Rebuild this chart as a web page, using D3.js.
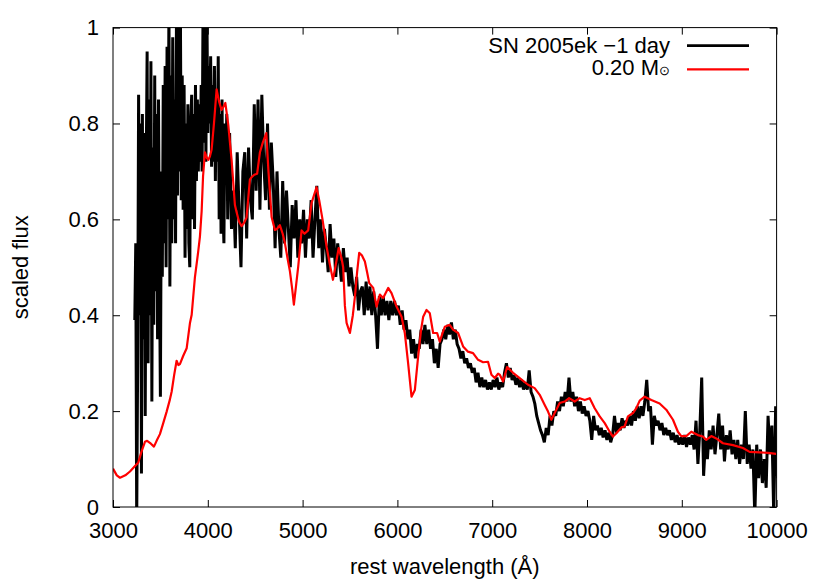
<!DOCTYPE html>
<html>
<head>
<meta charset="utf-8">
<script src="https://cdn.jsdelivr.net/npm/d3@7"></script>
<style>
  html, body { margin: 0; padding: 0; background: #fff; }
  svg { display: block; font-family: "Liberation Sans", Arial, Helvetica, sans-serif; }
</style>
</head>
<body>
<svg id="chart" width="830" height="581"></svg>
<script>
// ---------------- data ----------------
const xTicks = [3000, 4000, 5000, 6000, 7000, 8000, 9000, 10000];
const yTicks = [0, 0.2, 0.4, 0.6, 0.8, 1];
const xLabel = "rest wavelength (Å)";
const yLabel = "scaled flux";
const seriesNames = ["SN 2005ek \u22121 day", "0.20 M"];

// Observed spectrum, SN 2005ek: blue part sampled every 10 Å from 3230 Å
const snBlueStart = 3230, snBlueStep = 10;
const snBlueFlux = [
  0.39, 0.55, -0.03, 0.30, 0.86, 0.40, 0.80, 0.07, 0.82, 0.35,
  0.78, 0.19, 0.70, 0.95, 0.30, 0.85, 0.40, 0.93, 0.22, 0.75,
  0.38, 0.90, 0.45, 0.82, 0.35, 0.85, 0.50, 0.23, 0.70, 0.48,
  0.88, 0.55, 0.92, 0.50, 0.96, 0.60, 1.05, 0.46, 0.90, 0.55,
  0.98, 0.60, 0.85, 0.55, 1.05, 0.65, 1.02, 0.70, 1.08, 0.64,
  0.90, 0.62, 0.88, 0.52, 0.80, 0.58, 0.84, 0.55, 0.50, 0.80,
  0.86, 0.60, 0.82, 0.58, 0.88, 0.68, 0.85, 0.70, 0.84, 0.72,
  0.88, 0.70, 1.05, 0.76, 1.02, 0.72, 1.06, 0.78, 0.92, 0.80,
  0.94, 0.71, 0.88, 0.72, 0.92, 0.68, 0.86, 0.72, 0.94, 0.60,
  0.82, 0.57, 0.85, 0.62, 0.55, 0.80, 0.70, 0.82, 0.60, 0.76
];
// red part sampled every 20 Å from 4230 Å
const snRedStart = 4230, snRedStep = 20;
const snRedFlux = [
  0.78, 0.58, 0.66, 0.54, 0.74, 0.62, 0.50, 0.70, 0.74, 0.56,
  0.75, 0.64, 0.60, 0.84, 0.66, 0.85, 0.62, 0.86, 0.72, 0.64,
  0.80, 0.62, 0.76, 0.68, 0.54, 0.70, 0.58, 0.52, 0.68, 0.55,
  0.66, 0.58, 0.50, 0.63, 0.56, 0.64, 0.52, 0.60, 0.55, 0.62,
  0.52, 0.60, 0.56, 0.64, 0.52, 0.60, 0.67, 0.54, 0.60, 0.51,
  0.58, 0.54, 0.49, 0.59, 0.52, 0.56, 0.48, 0.55, 0.51, 0.47,
  0.54, 0.49, 0.52, 0.46, 0.50, 0.46, 0.44, 0.48, 0.41, 0.45,
  0.46, 0.40, 0.47, 0.41, 0.46, 0.40, 0.45, 0.40, 0.33, 0.44,
  0.40, 0.44, 0.40, 0.43, 0.39, 0.43, 0.40, 0.43, 0.40, 0.42,
  0.38, 0.41, 0.37, 0.39, 0.35, 0.37, 0.32, 0.35, 0.31, 0.34,
  0.33, 0.37, 0.34, 0.38, 0.34, 0.37, 0.33, 0.35, 0.30, 0.33,
  0.29, 0.34, 0.35, 0.37, 0.35, 0.38, 0.36, 0.385, 0.35, 0.37,
  0.34, 0.33, 0.31, 0.325, 0.30, 0.31, 0.29, 0.30, 0.28, 0.29,
  0.26, 0.28, 0.25, 0.27, 0.25, 0.265, 0.245, 0.26, 0.245, 0.265,
  0.25, 0.27, 0.245, 0.26, 0.25, 0.28, 0.30, 0.27, 0.29, 0.265,
  0.275, 0.255, 0.27, 0.25, 0.265, 0.245, 0.26, 0.245, 0.285, 0.24,
  0.23, 0.215, 0.19, 0.175, 0.16, 0.15, 0.135, 0.165, 0.15, 0.19,
  0.17, 0.20, 0.19, 0.22, 0.20, 0.23, 0.21, 0.24, 0.22, 0.27,
  0.22, 0.24, 0.21, 0.23, 0.20, 0.22, 0.195, 0.21, 0.19, 0.20,
  0.18, 0.14, 0.19, 0.16, 0.17, 0.15, 0.165, 0.145, 0.16, 0.14,
  0.155, 0.135, 0.15, 0.19, 0.155, 0.175, 0.16, 0.185, 0.165, 0.18,
  0.17, 0.19, 0.17, 0.20, 0.18, 0.21, 0.185, 0.21, 0.19, 0.22,
  0.265, 0.20, 0.21, 0.13, 0.19, 0.17, 0.18, 0.16, 0.175, 0.15,
  0.165, 0.15, 0.16, 0.14, 0.155, 0.135, 0.15, 0.13, 0.145, 0.13,
  0.15, 0.125, 0.145, 0.13, 0.15, 0.12, 0.18, 0.09, 0.16, 0.27,
  0.065, 0.14, 0.10, 0.16, 0.12, 0.17, 0.11, 0.15, 0.195, 0.12,
  0.17, 0.095, 0.15, 0.12, 0.16, 0.11, 0.14, 0.10, 0.14, 0.09,
  0.13, 0.10, 0.20, 0.09, 0.13, 0.08, 0.12, -0.02, 0.13, 0.06,
  0.12, 0.05, 0.10, 0.04, 0.19, 0.11, 0.17, -0.02, 0.21, 0.06
];

// Model spectrum, 0.20 Msun
const modelWave = [
  3000, 3040, 3074, 3130, 3179, 3230, 3267, 3300, 3337, 3360,
  3400, 3432, 3460, 3495, 3530, 3566, 3600, 3619, 3645, 3671,
  3690, 3706, 3740, 3777, 3812, 3830, 3864, 3899, 3917, 3935,
  3950, 3970, 3990, 4005, 4022, 4040, 4065, 4093, 4120, 4145,
  4165, 4185, 4216, 4251, 4286, 4304, 4330, 4357, 4380, 4409,
  4444, 4462, 4490, 4520, 4550, 4580, 4617, 4640, 4673, 4708,
  4730, 4760, 4790, 4813, 4840, 4866, 4890, 4908, 4930, 4954,
  4989, 5020, 5059, 5094, 5120, 5147, 5175, 5210, 5253, 5288,
  5320, 5345, 5380, 5410, 5428, 5446, 5464, 5499, 5530, 5552,
  5575, 5597, 5625, 5657, 5680, 5703, 5745, 5780, 5815, 5850,
  5903, 5938, 5991, 6044, 6078, 6113, 6149, 6184, 6219, 6250,
  6272, 6307, 6342, 6377, 6419, 6447, 6475, 6500, 6552, 6587,
  6640, 6693, 6745, 6798, 6851, 6904, 6956, 6992, 7027, 7062,
  7080, 7115, 7157, 7220, 7290, 7378, 7448, 7501, 7554, 7589,
  7624, 7659, 7712, 7765, 7811, 7870, 7923, 7976, 8029, 8081,
  8134, 8187, 8239, 8274, 8310, 8363, 8397, 8432, 8485, 8520,
  8556, 8608, 8679, 8766, 8836, 8907, 8959, 8994, 9047, 9100,
  9170, 9223, 9258, 9311, 9364, 9434, 9540, 9645, 9715, 9821,
  9909, 9997
];
const modelFlux = [
  0.080, 0.066, 0.061, 0.066, 0.074, 0.085, 0.093, 0.115, 0.136, 0.138,
  0.132, 0.126, 0.138, 0.152, 0.175, 0.199, 0.224, 0.241, 0.275, 0.305,
  0.296, 0.298, 0.315, 0.331, 0.384, 0.401, 0.479, 0.533, 0.564, 0.617,
  0.690, 0.740, 0.728, 0.724, 0.731, 0.745, 0.800, 0.871, 0.845, 0.828,
  0.835, 0.843, 0.797, 0.724, 0.630, 0.615, 0.595, 0.586, 0.592, 0.604,
  0.683, 0.688, 0.693, 0.695, 0.740, 0.760, 0.780, 0.700, 0.605, 0.578,
  0.580, 0.588, 0.570, 0.551, 0.520, 0.492, 0.455, 0.422, 0.460, 0.502,
  0.577, 0.570, 0.577, 0.634, 0.650, 0.667, 0.640, 0.600, 0.543, 0.505,
  0.474, 0.500, 0.540, 0.520, 0.500, 0.420, 0.384, 0.363, 0.400, 0.439,
  0.490, 0.530, 0.525, 0.512, 0.490, 0.467, 0.457, 0.418, 0.443, 0.436,
  0.457, 0.446, 0.418, 0.397, 0.363, 0.300, 0.230, 0.244, 0.314, 0.370,
  0.397, 0.411, 0.404, 0.363, 0.363, 0.345, 0.362, 0.376, 0.380, 0.370,
  0.363, 0.335, 0.324, 0.321, 0.307, 0.302, 0.303, 0.276, 0.269, 0.278,
  0.276, 0.262, 0.292, 0.280, 0.269, 0.255, 0.248, 0.234, 0.213, 0.199,
  0.182, 0.196, 0.217, 0.220, 0.227, 0.220, 0.227, 0.223, 0.227, 0.206,
  0.189, 0.175, 0.157, 0.147, 0.154, 0.166, 0.168, 0.189, 0.196, 0.206,
  0.222, 0.230, 0.223, 0.216, 0.203, 0.182, 0.157, 0.148, 0.148, 0.157,
  0.150, 0.147, 0.140, 0.148, 0.143, 0.133, 0.129, 0.123, 0.115, 0.114,
  0.113, 0.111
];

// ---------------- layout ----------------
const W = 830, H = 581;
const margin = { left: 113, right: 53.4, top: 27.6, bottom: 74 };
const pw = W - margin.left - margin.right;
const ph = H - margin.top - margin.bottom;

const svg = d3.select("#chart");
const g = svg.append("g").attr("transform", `translate(${margin.left},${margin.top})`);

const x = d3.scaleLinear().domain([3000, 10000]).range([0, pw]);
const y = d3.scaleLinear().domain([0, 1]).range([ph, 0]);

svg.append("defs").append("clipPath").attr("id", "plotclip")
  .append("rect").attr("x", 0).attr("y", 0).attr("width", pw).attr("height", ph);

const FS = 22;

// axes with inward ticks, mirrored on top and right
const axB = g.append("g").attr("transform", `translate(0,${ph})`)
  .call(d3.axisBottom(x).tickValues(xTicks).tickFormat(d3.format("d")).tickSizeInner(-7).tickSizeOuter(0).tickPadding(15));
const axL = g.append("g")
  .call(d3.axisLeft(y).tickValues(yTicks).tickFormat(d => d === 0 ? "0" : d === 1 ? "1" : d3.format(".1f")(d)).tickSizeInner(-7).tickSizeOuter(0).tickPadding(14));
const axT = g.append("g")
  .call(d3.axisTop(x).tickValues(xTicks).tickFormat("").tickSizeInner(-7).tickSizeOuter(0));
const axR = g.append("g").attr("transform", `translate(${pw},0)`)
  .call(d3.axisRight(y).tickValues(yTicks).tickFormat("").tickSizeInner(-7).tickSizeOuter(0));

[axB, axL, axT, axR].forEach(a => {
  a.select(".domain").remove();
  a.selectAll("line").attr("stroke", "#000").attr("stroke-width", 1);
  a.selectAll("text").attr("font-size", FS).attr("fill", "#000")
    .attr("font-family", '"Liberation Sans", Arial, Helvetica, sans-serif');
});

// data lines
const line = d3.line().x(d => x(d[0])).y(d => y(d[1]));
const dataG = g.append("g").attr("clip-path", "url(#plotclip)");

const snData = snBlueFlux.map((f, i) => [snBlueStart + i * snBlueStep, f])
  .concat(snRedFlux.map((f, i) => [snRedStart + i * snRedStep, f]));
const modelData = modelWave.map((w, i) => [w, modelFlux[i]]);

dataG.append("path").datum(snData)
  .attr("d", line).attr("fill", "none").attr("stroke", "#000")
  .attr("stroke-width", 3).attr("stroke-linejoin", "miter").attr("stroke-miterlimit", 2);

dataG.append("path").datum(modelData)
  .attr("d", line).attr("fill", "none").attr("stroke", "#ff0000")
  .attr("stroke-width", 2.2).attr("stroke-linejoin", "round");

// border
g.append("rect").attr("x", 0).attr("y", 0).attr("width", pw).attr("height", ph)
  .attr("fill", "none").attr("stroke", "#000").attr("stroke-width", 1);

// axis titles
svg.append("text").attr("x", margin.left + pw / 2).attr("y", 574)
  .attr("text-anchor", "middle").attr("font-size", FS).attr("fill", "#000").text(xLabel);
svg.append("text").attr("transform", `translate(28,${margin.top + ph / 2}) rotate(-90)`)
  .attr("text-anchor", "middle").attr("font-size", FS).attr("fill", "#000").text(yLabel);

// legend
const legX = 670, legLine = [687, 749];
const leg1 = svg.append("g");
leg1.append("text").attr("x", legX).attr("y", 53.3).attr("text-anchor", "end")
  .attr("font-size", FS).attr("fill", "#000").text(seriesNames[0]);
leg1.append("line").attr("x1", legLine[0]).attr("x2", legLine[1]).attr("y1", 45.7).attr("y2", 45.7)
  .attr("stroke", "#000").attr("stroke-width", 2.8);
const leg2 = svg.append("g");
const t2 = leg2.append("text").attr("x", legX).attr("y", 75).attr("text-anchor", "end")
  .attr("font-size", FS).attr("fill", "#000");
t2.append("tspan").text(seriesNames[1]);
t2.append("tspan").attr("font-size", 13).text("\u2299");
leg2.append("line").attr("x1", legLine[0]).attr("x2", legLine[1]).attr("y1", 69.3).attr("y2", 69.3)
  .attr("stroke", "#ff0000").attr("stroke-width", 2.2);
</script>
</body>
</html>
